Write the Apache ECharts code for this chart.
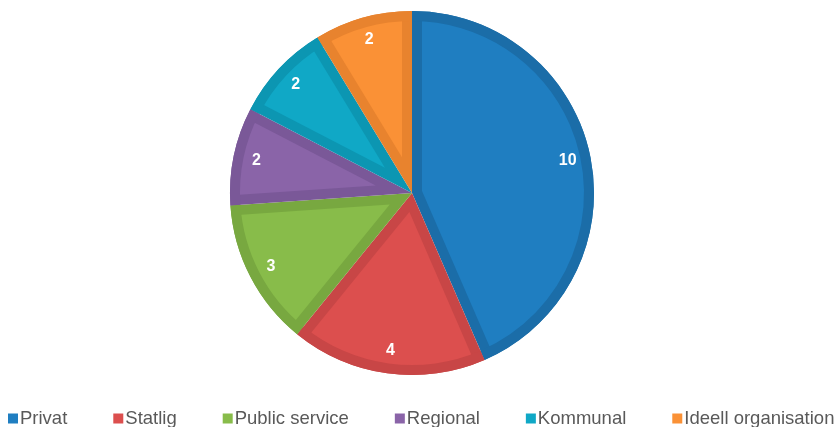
<!DOCTYPE html>
<html>
<head>
<meta charset="utf-8">
<style>
  html, body { margin: 0; padding: 0; background: #ffffff; }
  #chart { width: 840px; height: 427px; }
</style>
<script src="https://cdn.jsdelivr.net/npm/echarts@6/dist/echarts.min.js"></script>
</head>
<body>
<div id="chart"></div>
<script>
// Organisation types and number of entries per type
const categories = ['Privat', 'Statlig', 'Public service', 'Regional', 'Kommunal', 'Ideell organisation'];
const counts = [10, 4, 3, 2, 2, 2];
const fillColors = ['#1F7EC1', '#DC4F4E', '#88BC4A', '#8A64A8', '#10A8C6', '#FA9136'];
const edgeColors = ['#1B6DA8', '#C84646', '#78A840', '#7A5898', '#0C96B2', '#E8832E'];

const CX = 412, CY = 193, R = 182, BAND = 10;
const total = counts.reduce((a, b) => a + b, 0);

const common = {
  type: 'pie',
  startAngle: 90,
  clockwise: true,
  silent: true,
  animation: false,
  emphasis: { disabled: true },
  labelLine: { show: false },
  itemStyle: { borderWidth: 0 }
};

// Full slices in the darker edge colour
const baseSeries = Object.assign({}, common, {
  center: [CX, CY],
  radius: R,
  label: { show: false },
  data: categories.map((name, i) => ({ name, value: counts[i], itemStyle: { color: edgeColors[i], borderWidth: 0 } }))
});

// Lighter inner fill of each slice: the sector's apex is pushed out along
// its bisector so the radial edges sit BAND px inside the slice edges.
let cum = 0;
const innerSeries = counts.map((v, i) => {
  const start = 90 - cum / total * 360;
  const sweep = v / total * 360;
  const mid = (start - sweep / 2) * Math.PI / 180;
  const shift = BAND / Math.sin(sweep / 2 * Math.PI / 180);
  cum += v;
  return Object.assign({}, common, {
    center: [CX + shift * Math.cos(mid), CY - shift * Math.sin(mid)],
    radius: R - shift - 1,
    startAngle: start,
    label: { show: false },
    data: [
      { value: v, itemStyle: { color: fillColors[i], borderWidth: 0 } },
      { value: total - v, itemStyle: { color: 'transparent', borderWidth: 0 } }
    ]
  });
});

// Outer rim in the edge colour
const rimSeries = Object.assign({}, common, {
  center: [CX, CY],
  radius: [R - BAND, R],
  label: { show: false },
  data: counts.map((v, i) => ({ value: v, itemStyle: { color: edgeColors[i], borderWidth: 0 } }))
});

// Value labels near the rim
const labelSeries = Object.assign({}, common, {
  center: [CX, CY],
  radius: [130, R],
  label: {
    show: true,
    position: 'inside',
    formatter: '{c}',
    color: '#ffffff',
    fontSize: 16,
    fontWeight: 'bold',
    fontFamily: 'Liberation Sans, Arial, sans-serif'
  },
  data: counts.map((v) => ({ value: v, itemStyle: { color: 'transparent', borderWidth: 0 } }))
});

const chart = echarts.init(document.getElementById('chart'), null, { renderer: 'canvas' });
chart.setOption({
  backgroundColor: '#ffffff',
  animation: false,
  legend: {
    left: 8,
    top: 409,
    padding: 0,
    icon: 'rect',
    itemWidth: 10,
    itemHeight: 10,
    itemGap: 46,
    selectedMode: false,
    textStyle: {
      fontSize: 18.5,
      color: '#595959',
      fontFamily: 'Liberation Sans, Arial, sans-serif',
      padding: [0, 0, 0, -3]
    },
    data: categories.map((name, i) => ({ name, itemStyle: { color: fillColors[i] } }))
  },
  series: [baseSeries].concat(innerSeries, [rimSeries, labelSeries])
});
</script>
</body>
</html>
